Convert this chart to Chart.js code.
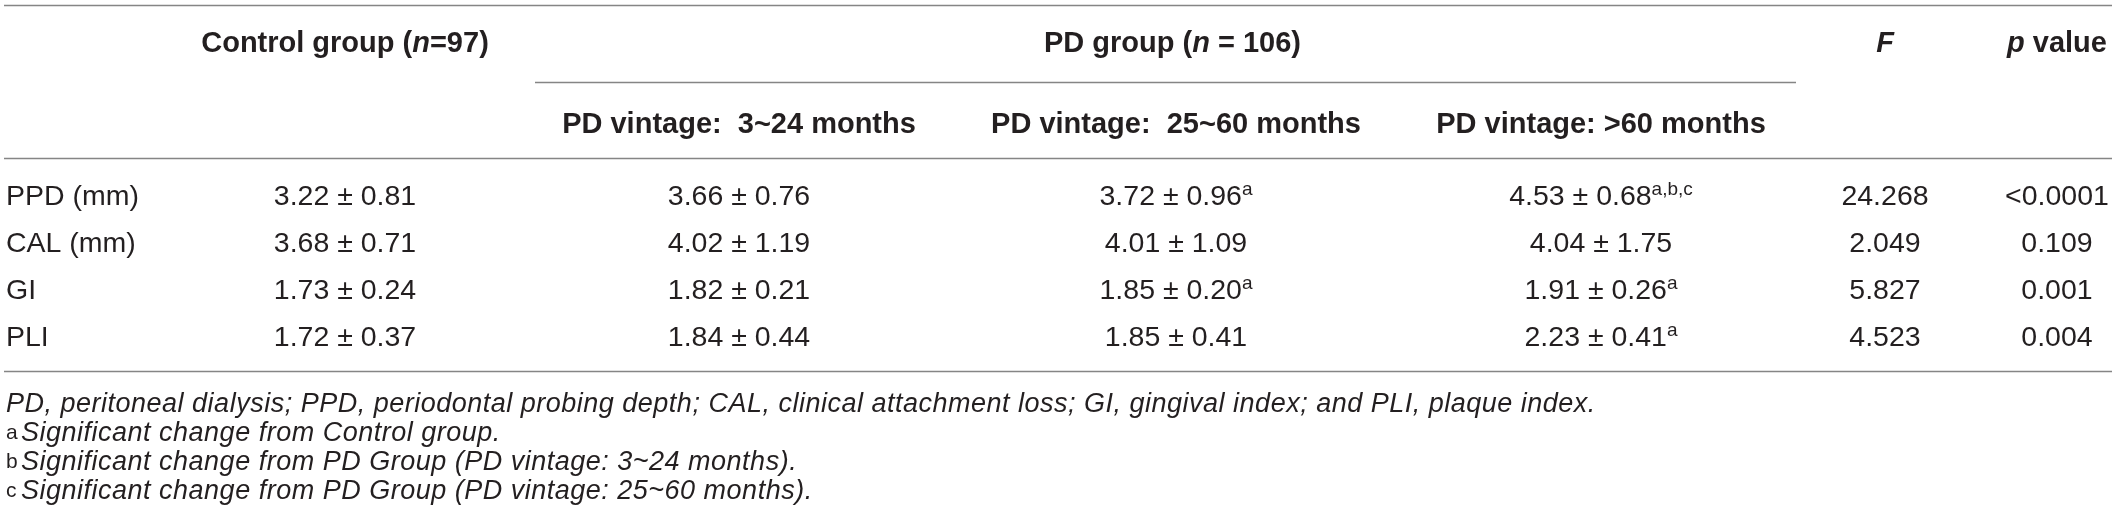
<!DOCTYPE html>
<html>
<head>
<meta charset="utf-8">
<script src="https://cdn.jsdelivr.net/npm/chart.js@4.4.1/dist/chart.umd.min.js"></script>
<style>
  html, body { margin: 0; padding: 0; background: #ffffff; }
  #wrap { width: 2117px; height: 532px; position: relative; }
</style>
</head>
<body>
<div id="wrap"><canvas id="c"></canvas></div>
<script>
// ---------------- DATA ----------------
const rowLabels   = ['PPD (mm)', 'CAL (mm)', 'GI', 'PLI'];
const controlMean = [3.22, 3.68, 1.73, 1.72];
const controlSD   = [0.81, 0.71, 0.24, 0.37];
const pd1Mean     = [3.66, 4.02, 1.82, 1.84];
const pd1SD       = [0.76, 1.19, 0.21, 0.44];
const pd2Mean     = [3.72, 4.01, 1.85, 1.85];
const pd2SD       = [0.96, 1.09, 0.20, 0.41];
const pd2Sup      = ['a', '', 'a', ''];
const pd3Mean     = [4.53, 4.04, 1.91, 2.23];
const pd3SD       = [0.68, 1.75, 0.26, 0.41];
const pd3Sup      = ['a,b,c', '', 'a', 'a'];
const fValues     = [24.268, 2.049, 5.827, 4.523];
const pValues     = ['<0.0001', '0.109', '0.001', '0.004'];

const controlHeader = [['Control group (', 'b'], ['n', 'bi'], ['=97)', 'b']];
const pdGroupHeader = [['PD group (', 'b'], ['n', 'bi'], [' = 106)', 'b']];
const fHeader       = [['F', 'bi']];
const pHeader       = [['p', 'bi'], [' value', 'b']];
const vintageHeaders = ['PD vintage:  3~24 months', 'PD vintage:  25~60 months', 'PD vintage: >60 months'];
const footnotes = [
  ['', 'PD, peritoneal dialysis; PPD, periodontal probing depth; CAL, clinical attachment loss; GI, gingival index; and PLI, plaque index.'],
  ['a', 'Significant change from Control group.'],
  ['b', 'Significant change from PD Group (PD vintage: 3~24 months).'],
  ['c', 'Significant change from PD Group (PD vintage: 25~60 months).']
];

// ---------------- LAYOUT / STYLE ----------------
const L = {
  W: 2117, H: 532,
  colX: { label: 6, control: 345, pd1: 739, pd2: 1176, pd3: 1601, F: 1885, p: 2057 },
  rowY: [195, 242, 289, 336],
  head1Y: 42, head2Y: 123,
  rules: [
    { y: 5,   x0: 4,   x1: 2112 },
    { y: 82,  x0: 535, x1: 1796 },
    { y: 158, x0: 4,   x1: 2112 },
    { y: 371, x0: 4,   x1: 2112 }
  ],
  footY: [402, 431, 460, 489],
  footX: 6, footTextX: 21
};
const FAM = '"Liberation Sans", Arial, Helvetica, sans-serif';
const S = {
  body: 28.5, head: 29, sup: 19, foot: 27, footSup: 21,
  color: '#231f20', rule: '#858585'
};
function font(style, size) {
  const it = style.includes('i') ? 'italic ' : '';
  const bd = style.includes('b') ? 'bold ' : '';
  return it + bd + size + 'px ' + FAM;
}
const pm = (m, s) => m.toFixed(2) + ' \u00B1 ' + s.toFixed(2);

// Build the cells: each column is a dataset of invisible points placed through the scales
function col(key, texts, sups) {
  return rowLabels.map((_, i) => ({ x: L.colX[key], y: L.rowY[i], text: texts[i], sup: sups ? sups[i] : '', align: key === 'label' ? 'left' : 'center' }));
}
const datasets = [
  col('label',   rowLabels),
  col('control', controlMean.map((m, i) => pm(m, controlSD[i]))),
  col('pd1',     pd1Mean.map((m, i) => pm(m, pd1SD[i]))),
  col('pd2',     pd2Mean.map((m, i) => pm(m, pd2SD[i])), pd2Sup),
  col('pd3',     pd3Mean.map((m, i) => pm(m, pd3SD[i])), pd3Sup),
  col('F',       fValues.map(v => v.toFixed(3))),
  col('p',       pValues)
].map(d => ({ data: d, pointRadius: 0, pointHoverRadius: 0, showLine: false }));

function drawRuns(ctx, runs, x, yc, align, mainSize) {
  const base = yc + 0.358 * mainSize;
  let total = 0;
  runs.forEach(r => { ctx.font = r.font; r.w = ctx.measureText(r.t).width; total += r.w; });
  let cx = align === 'center' ? x - total / 2 : x;
  runs.forEach(r => {
    ctx.font = r.font;
    ctx.fillText(r.t, cx, base - (r.rise || 0));
    cx += r.w;
  });
}

const tablePlugin = {
  id: 'tablePlugin',
  afterDatasetsDraw(chart) {
    const ctx = chart.ctx;
    const xs = chart.scales.x, ys = chart.scales.y;
    ctx.save();
    ctx.fillStyle = S.color;
    ctx.textBaseline = 'alphabetic';
    ctx.textAlign = 'left';

    // rules
    ctx.strokeStyle = S.rule;
    ctx.lineWidth = 1.4;
    L.rules.forEach(r => {
      const y = Math.round(ys.getPixelForValue(r.y)) + 0.5;
      ctx.beginPath();
      ctx.moveTo(xs.getPixelForValue(r.x0), y);
      ctx.lineTo(xs.getPixelForValue(r.x1), y);
      ctx.stroke();
    });

    // headers
    const hrun = arr => arr.map(([t, st]) => ({ t, font: font(st, S.head) }));
    const h1 = ys.getPixelForValue(L.head1Y);
    drawRuns(ctx, hrun(controlHeader), xs.getPixelForValue(L.colX.control), h1, 'center', S.head);
    drawRuns(ctx, hrun(pdGroupHeader), xs.getPixelForValue((L.rules[1].x0 + L.rules[1].x1) / 2 + 7), h1, 'center', S.head);
    drawRuns(ctx, hrun(fHeader), xs.getPixelForValue(L.colX.F), h1, 'center', S.head);
    drawRuns(ctx, hrun(pHeader), xs.getPixelForValue(L.colX.p), h1, 'center', S.head);
    const h2 = ys.getPixelForValue(L.head2Y);
    ['pd1', 'pd2', 'pd3'].forEach((k, i) => {
      drawRuns(ctx, [{ t: vintageHeaders[i], font: font('b', S.head) }], xs.getPixelForValue(L.colX[k]), h2, 'center', S.head);
    });

    // body cells from dataset elements
    chart.data.datasets.forEach((ds, di) => {
      const meta = chart.getDatasetMeta(di);
      meta.data.forEach((el, i) => {
        const cell = ds.data[i];
        const runs = [{ t: cell.text, font: font('', S.body) }];
        if (cell.sup) runs.push({ t: cell.sup, font: font('', S.sup), rise: 10 });
        drawRuns(ctx, runs, el.x, el.y, cell.align, S.body);
      });
    });

    // footnotes
    footnotes.forEach(([sup, txt], i) => {
      const yc = ys.getPixelForValue(L.footY[i]);
      const base = yc + 0.358 * S.foot;
      if (sup) {
        ctx.font = font('', S.footSup);
        ctx.fillText(sup, xs.getPixelForValue(L.footX), base - 2);
      }
      ctx.font = font('i', S.foot);
      try { ctx.letterSpacing = '0.5px'; } catch (e) {}
      ctx.fillText(txt, xs.getPixelForValue(sup ? L.footTextX : L.footX), base);
      try { ctx.letterSpacing = '0px'; } catch (e) {}
    });
    ctx.restore();
  }
};

new Chart(document.getElementById('c'), {
  type: 'scatter',
  data: { datasets },
  options: {
    responsive: true,
    maintainAspectRatio: false,
    devicePixelRatio: 1,
    animation: false,
    events: [],
    layout: { padding: 0 },
    scales: {
      x: { type: 'linear', min: 0, max: L.W, display: false },
      y: { type: 'linear', min: 0, max: L.H, reverse: true, display: false }
    },
    plugins: { legend: { display: false }, tooltip: { enabled: false } }
  },
  plugins: [tablePlugin]
});
</script>
</body>
</html>
